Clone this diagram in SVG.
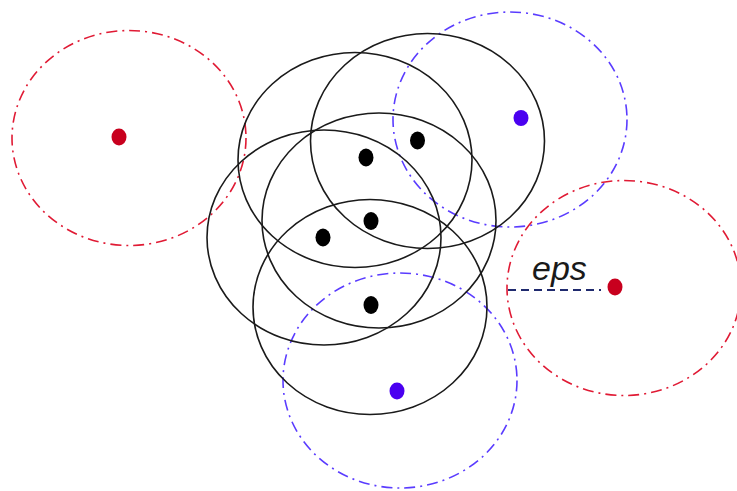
<svg xmlns="http://www.w3.org/2000/svg" width="737" height="491" viewBox="0 0 737 491">
<style>
.rng{fill:none;stroke-width:1.6}
.core{stroke:#1a1a1a}
.noise{stroke:#e01a34;stroke-dasharray:11 5 2 5}
.border{stroke:#5a3cff;stroke-dasharray:11 5 2 5}
.dc{fill:#000}
.dn{fill:#c8001e}
.db{fill:#4a00f0}
.lbl{font-family:"Liberation Sans",Arial,sans-serif;font-style:italic;font-size:34px;fill:#1a1a1a}
</style>
<rect width="737" height="491" fill="#fff"/>
<g id="noise-left"><ellipse class="rng noise" cx="129" cy="138" rx="117" ry="107.5"/><ellipse class="dn" cx="119" cy="137" rx="7.5" ry="8.5"/></g>
<g id="border-top"><ellipse class="rng border" cx="510" cy="119.5" rx="117" ry="107.5"/><ellipse class="db" cx="521" cy="118" rx="7.5" ry="8"/></g>
<g id="noise-right"><ellipse class="rng noise" cx="624" cy="288" rx="117" ry="107.5"/><ellipse class="dn" cx="615" cy="287" rx="7.5" ry="8.5"/></g>
<g id="border-bottom"><ellipse class="rng border" cx="400" cy="380.5" rx="117" ry="107.5"/><ellipse class="db" cx="397" cy="391" rx="7.5" ry="8.5"/></g>
<g id="core-1"><ellipse class="rng core" cx="355" cy="160" rx="117" ry="107.5"/><ellipse class="dc" cx="366" cy="157.5" rx="7.5" ry="9"/></g>
<g id="core-2"><ellipse class="rng core" cx="427.5" cy="141" rx="117" ry="107.5"/><ellipse class="dc" cx="417.5" cy="140.5" rx="7.5" ry="9"/></g>
<g id="core-3"><ellipse class="rng core" cx="379" cy="220.5" rx="117" ry="107.5"/><ellipse class="dc" cx="371" cy="221" rx="7.5" ry="9"/></g>
<g id="core-4"><ellipse class="rng core" cx="324" cy="237.5" rx="117" ry="107.5"/><ellipse class="dc" cx="323" cy="237.5" rx="7.5" ry="9"/></g>
<g id="core-5"><ellipse class="rng core" cx="370" cy="307" rx="117" ry="107.5"/><ellipse class="dc" cx="371" cy="305" rx="7.5" ry="9"/></g>
<g id="connectors"><line x1="508" y1="290" x2="601" y2="290" stroke="#1f2a6e" stroke-width="2.2" stroke-dasharray="8 5"/></g>
<text class="lbl" x="532" y="280">eps</text>
</svg>
